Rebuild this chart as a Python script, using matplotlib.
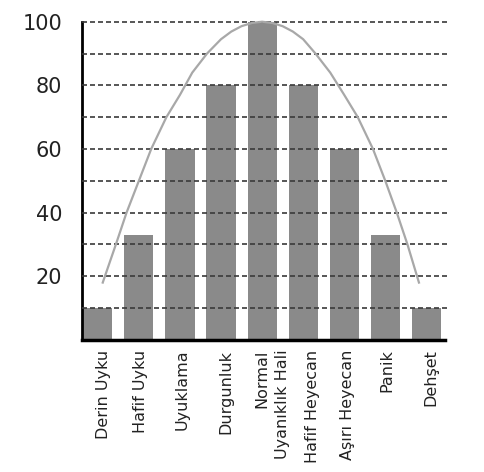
import numpy as np
import matplotlib.pyplot as plt

# bar heights, one per bar (Normal / Uyaniklik Hali share the middle bar)
bar_values = [10, 33, 60, 80, 100, 80, 60, 33, 10]

# category labels under the axis
labels = ["Derin Uyku", "Hafif Uyku", "Uyuklama", "Durgunluk", "Normal",
          "Uyanıklık Hali", "Hafif Heyecan", "Aşırı Heyecan", "Panik", "Dehşet"]

# curve (x in bar-index units)
curve_x = [0.12, 0.44, 0.70, 1.00, 1.30, 1.67, 2.00, 2.30, 2.66, 3.00, 3.25,
           3.50, 3.75, 4.00, 4.25, 4.50, 4.75, 5.00, 5.30, 5.66, 6.00,
           6.33, 6.70, 7.00, 7.28, 7.54, 7.82]
curve_y = [18, 30, 40, 50, 60, 70, 77, 84, 90, 94.5, 96.9,
           98.6, 99.6, 100, 99.6, 98.6, 96.9, 94.5, 90, 84, 77,
           70, 60, 50, 40, 30, 18]

yticks = [20, 40, 60, 80, 100]
grid_levels = [10, 20, 30, 40, 50, 60, 70, 80, 90, 100]

fig = plt.figure(figsize=(4.84, 4.72), dpi=100)
ax = fig.add_axes([0.169, 0.280, 0.756, 0.674])

x = np.arange(len(bar_values))
ax.bar(x, bar_values, width=0.71, color="#8a8a8a", zorder=2)

for g in grid_levels:
    ax.axhline(g, color="#3a3a3a", lw=1.2, ls=(0, (3, 1.8)), zorder=3, clip_on=False)

ax.plot(curve_x, curve_y, color="#a8a8a8", lw=1.6, zorder=4, clip_on=False)

ax.set_xlim(-0.39, 8.52)
ax.set_ylim(0, 100)

# label positions (Uyaniklik Hali squeezed in next to Normal)
label_pos = [0.15, 1.05, 2.05, 3.12, 4.0, 4.5, 5.22, 6.07, 7.05, 8.12]
ax.set_xticks(label_pos)
ax.set_xticklabels(labels, rotation=90, fontsize=11.5, color="#222222")
ax.set_yticks(yticks)
ax.set_yticklabels([str(v) for v in yticks], fontsize=15, color="#222222")
ax.tick_params(axis="both", length=0)
ax.tick_params(axis="y", pad=14)
ax.tick_params(axis="x", pad=7)

for s in ["top", "right"]:
    ax.spines[s].set_visible(False)
ax.spines["left"].set_linewidth(2)
ax.spines["bottom"].set_linewidth(2.5)
ax.spines["bottom"].set_bounds(-0.39, 8.45)

fig.savefig("out.png", dpi=100)
